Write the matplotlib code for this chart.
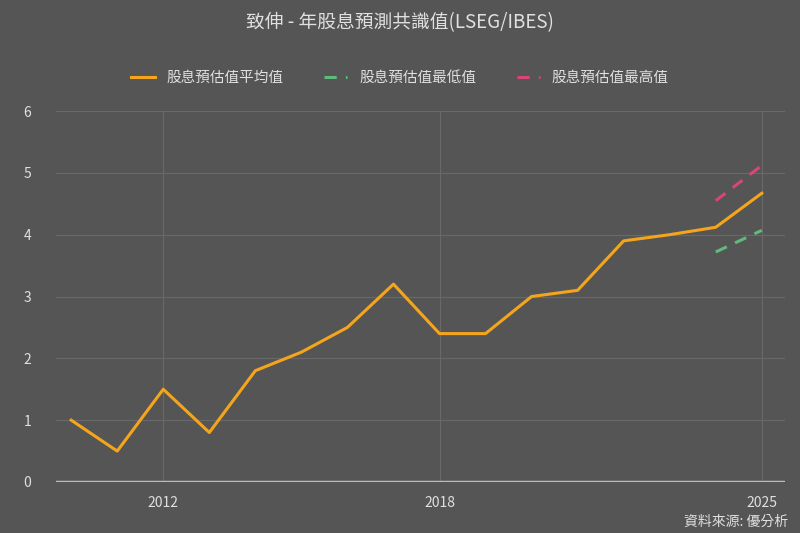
import numpy as np
import matplotlib.pyplot as plt

plt.rcParams['font.family'] = ['Noto Sans CJK TC', 'DejaVu Sans']

# data
years = list(range(2010, 2026))
avg_vals = [1.0, 0.5, 1.5, 0.8, 1.8, 2.1, 2.5, 3.2, 2.4, 2.4, 3.0, 3.1, 3.9, 4.0, 4.12, 4.67]
est_years = [2024, 2025]
low_vals = [3.72, 4.07]
high_vals = [4.55, 5.12]
xticks = [2012, 2018, 2025]

bg = "#555555"
txt = "#e0e0e0"

fig = plt.figure(figsize=(8, 5.33), dpi=100, facecolor=bg)
ax = fig.add_axes([0.07, 0.0957, 0.911, 0.696], facecolor=bg)

ax.plot(years, avg_vals, color="#f5a51c", lw=2.2, label="股息預估值平均值", zorder=3)
ax.plot(est_years, low_vals, color="#5fba7d", lw=2.2, ls=(0, (4, 3)), label="股息預估值最低值", zorder=3)
ax.plot(est_years, high_vals, color="#d9457a", lw=2.2, ls=(0, (4, 3)), label="股息預估值最高值", zorder=3)

ax.set_xlim(2009.67, 2025.5)
ax.set_ylim(0, 6)
ax.set_xticks(xticks)
ax.set_yticks(range(0, 7))
ax.grid(True, color="#696969", lw=0.8)
ax.axhline(0, color="#b4bcc4", lw=2.5, zorder=2)
for s in ax.spines.values():
    s.set_visible(False)
ax.tick_params(length=0, colors=txt, labelsize=10)
ax.tick_params(axis='y', pad=18)
ax.tick_params(axis='x', pad=10)

fig.text(0.5, 0.958, "致伸 - 年股息預測共識值(LSEG/IBES)", ha="center", va="center",
         color=txt, fontsize=13.5)
fig.legend(loc="center", bbox_to_anchor=(0.5, 0.853), ncol=3, frameon=False,
           labelcolor=txt, fontsize=10.5, handlelength=1.6, columnspacing=2.8)
fig.text(0.985, 0.02, "資料來源: 優分析", ha="right", va="center", color=txt, fontsize=10)

fig.savefig("out.png", dpi=100, facecolor=bg)
